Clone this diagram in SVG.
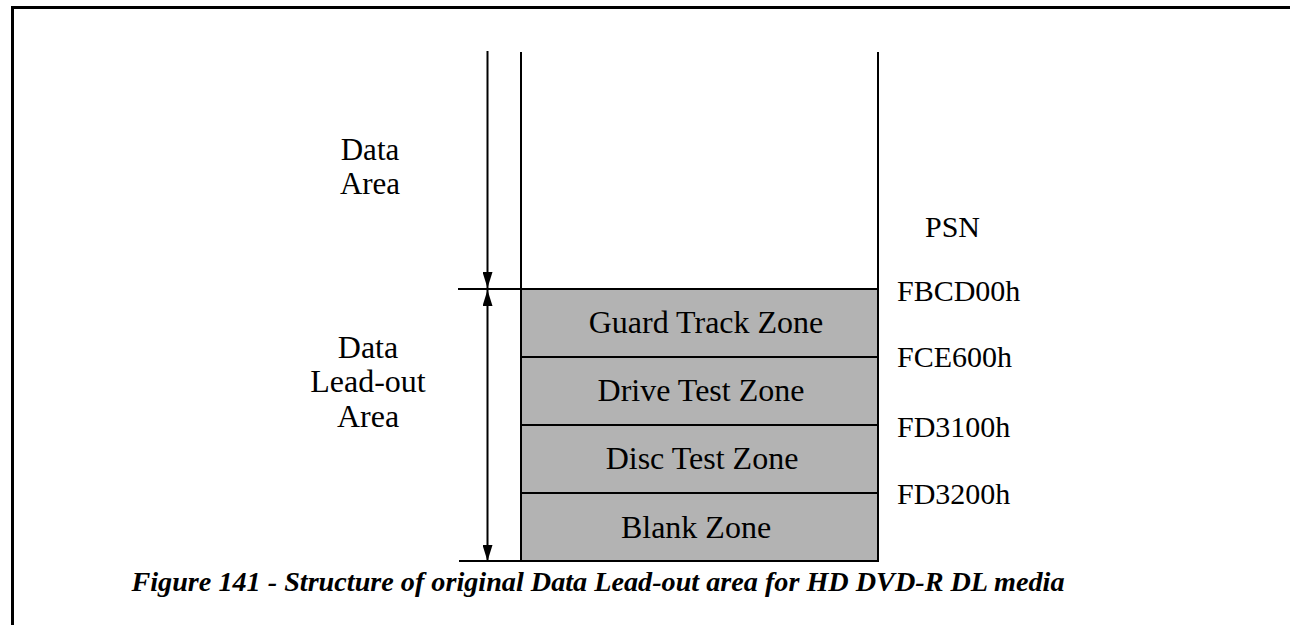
<svg xmlns="http://www.w3.org/2000/svg" width="1290" height="625" viewBox="0 0 1290 625">
<style>
.t{font-family:"Liberation Serif","Times New Roman",serif;font-size:30px;fill:#000}
.b{font-size:32px}
.c{text-anchor:middle}
.cap{font-family:"Liberation Serif","Times New Roman",serif;font-size:28.2px;font-weight:bold;font-style:italic;text-anchor:middle}
.ln{stroke:#000;stroke-width:2;fill:none}
.zone{fill:#b3b3b3;stroke:#000;stroke-width:2}
</style>
<defs>
<marker id="ah" viewBox="0 0 16 10" refX="16" refY="5" markerWidth="16" markerHeight="10" markerUnits="userSpaceOnUse" orient="auto-start-reverse">
<path d="M0,0 L16,5 L0,10 Z" fill="#000"/>
</marker>
</defs>
<path d="M12.5,625 V7.5 H1290" fill="none" stroke="#000" stroke-width="3"/>
<g id="zones">
<g id="guard"><rect class="zone" x="521" y="289" width="357" height="68"/><text class="t b c" x="706" y="333">Guard Track Zone</text></g>
<g id="drive"><rect class="zone" x="521" y="357" width="357" height="68"/><text class="t b c" x="701" y="401">Drive Test Zone</text></g>
<g id="disc"><rect class="zone" x="521" y="425" width="357" height="68"/><text class="t b c" x="702" y="469">Disc Test Zone</text></g>
<g id="blank"><rect class="zone" x="521" y="493" width="357" height="68"/><text class="t b c" x="696" y="538">Blank Zone</text></g>
</g>
<g id="connectors">
<line class="ln" x1="521" y1="52" x2="521" y2="561"/>
<line class="ln" x1="878" y1="52" x2="878" y2="561"/>
<line class="ln" x1="458" y1="289" x2="521" y2="289"/>
<line class="ln" x1="459" y1="561" x2="521" y2="561"/>
<line class="ln" x1="487.5" y1="51" x2="487.5" y2="288" marker-end="url(#ah)"/>
<line class="ln" x1="487.5" y1="290" x2="487.5" y2="561" marker-start="url(#ah)" marker-end="url(#ah)"/>
</g>
<g id="label-data-area"><text class="t c" x="370" y="160" style="font-size:31px">Data</text><text class="t c" x="370" y="194" style="font-size:31px">Area</text></g>
<g id="label-leadout"><text class="t b c" x="368" y="358">Data</text><text class="t b c" x="368" y="392">Lead-out</text><text class="t b c" x="368" y="427">Area</text></g>
<g id="psn">
<text class="t" x="925" y="237">PSN</text>
<text class="t" x="897" y="301">FBCD00h</text>
<text class="t" x="897" y="367">FCE600h</text>
<text class="t" x="897" y="437">FD3100h</text>
<text class="t" x="897" y="504">FD3200h</text>
</g>
<text class="cap" x="598" y="591">Figure 141 - Structure of original Data Lead-out area for HD DVD-R DL media</text>
</svg>
